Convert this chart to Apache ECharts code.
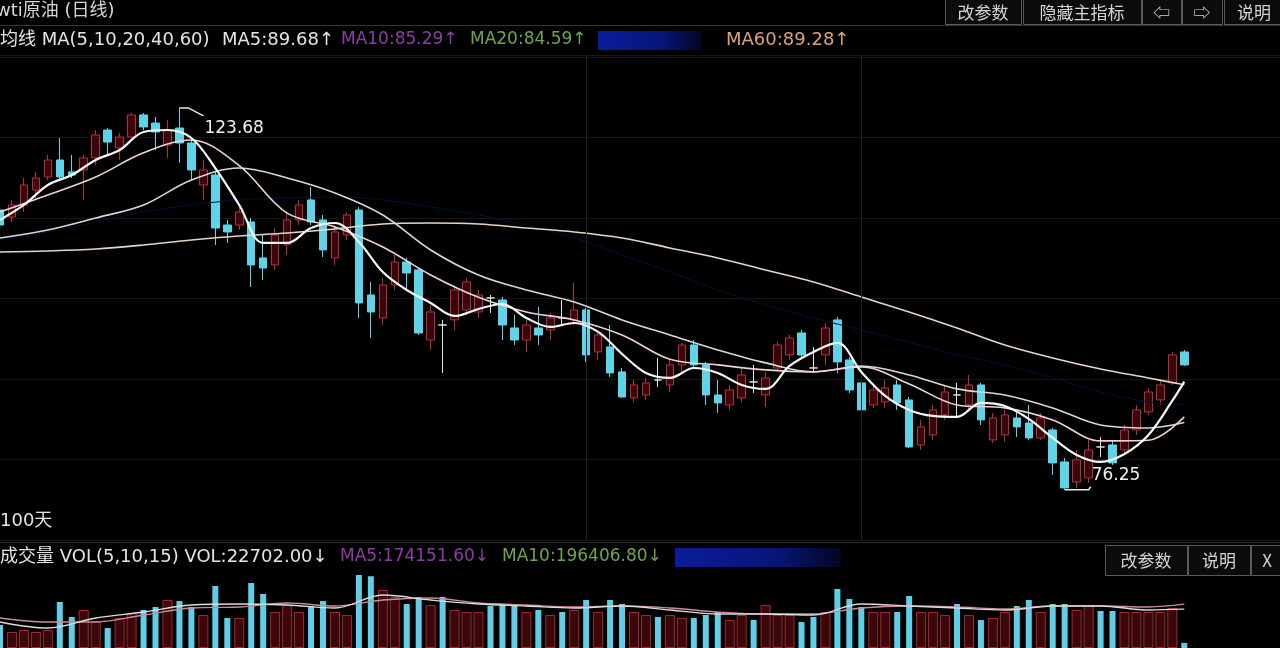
<!DOCTYPE html>
<html><head><meta charset="utf-8">
<script src="https://cdn.jsdelivr.net/npm/echarts@6/dist/echarts.min.js"></script>
<style>html,body{margin:0;padding:0;background:#000;}#c{width:1280px;height:648px;}</style>
</head><body><div id="c"></div>
<script>
// ---- categories (100 trading days + 8 empty slots on the right) ----
const dayLabels = Array.from({length: 100}, (_, i) => 'D' + (i + 1));
const padLabels = ['p1','p2','p3','p4','p5','p6','p7','p8'];

// ---- daily candles ----
const opens = [111.00,110.13,111.62,113.48,115.10,117.21,115.72,115.97,117.46,120.93,
118.70,120.06,122.80,121.80,119.07,121.18,119.32,114.10,115.34,109.13,
109.13,109.51,105.04,104.17,106.65,109.76,112.24,109.76,105.04,107.89,
111.00,100.44,97.58,101.68,104.54,103.55,94.85,96.71,97.34,98.58,
98.33,100.07,99.82,96.34,94.85,96.34,96.09,97.58,97.34,98.58,
93.36,93.98,90.88,87.65,88.02,89.88,89.26,91.75,94.23,91.75,
88.02,86.78,87.65,89.64,88.02,91.37,92.99,95.72,91.37,92.99,
97.34,92.37,89.51,86.78,87.15,89.26,87.40,81.81,83.05,85.54,
88.02,86.78,89.26,82.43,83.05,85.16,84.54,82.68,83.67,79.70,
77.22,77.71,81.56,81.81,81.19,83.67,85.91,87.40,89.51,93.36];
const closes = [109.13,111.62,114.10,114.97,117.21,115.10,115.34,117.46,120.31,119.44,
120.06,122.80,121.31,120.69,120.93,119.32,115.97,115.97,108.76,108.27,
110.75,104.17,103.79,107.89,109.76,111.62,109.51,106.03,108.27,110.38,
99.45,98.33,101.68,104.54,103.17,95.72,98.33,96.71,101.06,102.06,
100.44,100.07,96.71,94.85,96.71,95.47,97.58,97.58,98.58,92.99,
95.47,90.75,87.77,89.26,89.51,89.88,91.75,94.23,91.75,88.02,
87.03,88.64,90.50,89.64,90.13,94.23,95.10,92.99,91.37,96.34,
92.12,88.64,86.16,88.64,88.89,87.03,81.56,84.05,86.16,88.39,
88.02,89.26,84.92,85.16,85.54,84.05,82.68,85.16,79.58,76.47,
79.95,81.19,81.56,79.58,83.67,86.16,88.39,89.26,92.99,91.75];
const highs = [112.24,112.24,114.97,115.72,117.83,119.94,117.83,117.83,120.93,121.18,
120.56,123.05,123.05,122.55,122.18,123.68,119.69,117.21,115.72,109.76,
111.62,110.00,107.89,108.76,110.75,112.24,113.85,110.38,109.13,110.75,
111.37,102.06,102.55,105.41,105.04,103.79,99.20,97.34,101.68,102.55,
101.06,100.44,100.19,97.96,97.34,98.95,98.21,99.82,101.93,98.83,
96.09,96.71,91.37,89.88,90.13,92.62,92.37,94.48,94.85,92.12,
89.88,89.26,91.37,91.75,90.88,94.60,95.47,96.09,93.98,96.96,
97.71,92.74,89.88,89.26,89.88,89.88,87.77,84.92,86.78,89.26,
89.51,90.50,89.51,85.79,86.16,86.16,86.78,85.79,83.92,80.20,
81.19,82.43,82.80,82.43,84.29,86.78,88.89,89.88,93.36,93.61];
const lows = [108.51,109.51,110.75,112.24,114.72,114.72,114.97,112.24,116.59,117.83,
117.21,119.69,120.93,118.45,117.46,116.84,114.72,112.24,106.65,106.90,
108.51,101.43,102.30,103.55,105.41,109.13,109.13,105.16,104.17,107.27,
97.58,95.10,96.71,101.06,101.06,95.47,93.61,90.75,96.09,97.96,
97.58,98.21,94.85,94.23,93.36,94.23,94.85,96.71,96.71,92.12,
92.37,90.26,87.65,87.15,87.40,89.01,88.39,90.88,91.37,86.78,
85.79,86.16,87.15,88.27,86.53,90.88,92.37,92.74,90.75,91.75,
90.75,88.27,85.79,86.41,86.41,86.16,81.44,81.19,82.43,84.92,
85.29,86.16,84.29,82.06,82.18,82.80,82.43,82.43,78.08,76.25,
76.47,77.09,80.32,79.33,80.57,83.05,85.54,86.78,89.26,91.62];

// ---- moving averages: [day index, price] ----
const ma5 = [[0,109.76],[2,111.62],[4,114.10],[6,115.34],[8,117.21],[10,118.45],[12,120.69],[14,120.93],[16,119.94],[18,116.21],
[20,111.62],[22,106.90],[24,106.90],[26,108.76],[28,109.38],[30,107.02],[32,103.30],[34,101.06],[36,99.45],[38,97.83],
[40,98.70],[42,99.32],[44,97.58],[46,96.47],[48,96.96],[50,95.85],[52,93.11],[54,90.75],[56,90.13],[58,91.37],
[60,90.75],[62,89.26],[64,88.77],[66,91.62],[68,93.36],[70,94.48],[72,90.88],[74,87.90],[76,86.16],[78,85.41],
[80,85.29],[82,87.03],[84,86.65],[86,85.04],[88,82.68],[90,80.57],[92,79.70],[94,80.69],[96,83.05],[98,87.30],[99,89.68]];
const ma10 = [[0,110.75],[4,112.86],[8,115.10],[12,118.10],[16,119.69],[20,116.50],[24,110.60],[28,108.89],[32,106.40],[36,102.92],
[40,100.15],[44,98.33],[48,97.34],[52,95.47],[56,92.45],[60,91.75],[64,91.13],[68,90.90],[72,91.50],[76,89.39],
[80,86.78],[84,86.41],[88,84.92],[92,82.31],[96,82.40],[99,85.29]];
const ma20 = [[0,107.52],[4,108.51],[8,110.00],[12,111.62],[16,114.72],[20,116.21],[24,114.97],[28,113.11],[32,110.38],[36,106.03],
[40,102.92],[44,101.06],[48,99.57],[52,97.34],[56,95.47],[60,93.61],[64,92.00],[68,90.88],[72,91.62],[76,90.50],
[80,88.77],[84,88.02],[88,86.41],[92,84.29],[96,83.92],[99,84.59]];
const ma40 = [[0,107.27],[4,108.27],[8,109.51],[12,110.75],[16,111.62],[20,112.24],[24,112.49],[28,112.61],[32,112.24],[36,111.37],
[40,110.38],[44,109.13],[48,107.52],[52,105.41],[56,103.30],[60,101.06],[64,99.20],[68,97.58],[72,96.09],[76,94.60],
[80,92.99],[84,91.75],[88,90.13],[92,88.39],[96,87.15],[99,86.78]];
const ma60 = [[0,105.78],[4,105.91],[8,106.15],[12,106.65],[16,107.27],[20,107.77],[24,108.14],[28,108.64],[32,109.26],[36,109.38],
[40,109.26],[44,108.76],[48,108.27],[52,107.52],[56,106.28],[60,105.04],[64,103.55],[68,102.06],[72,100.19],[76,98.33],
[80,96.34],[84,94.23],[88,92.62],[92,91.25],[96,90.13],[99,89.28]];

// ---- volume ----
const vols = [103200,71800,80800,71800,80800,206400,139100,170500,116700,89700,
134600,157000,170500,184000,215400,210900,184000,148100,278200,134600,
134600,291700,242300,161500,192900,161500,188500,210900,161500,148100,
327600,322000,260200,228800,197400,228800,192900,228800,170500,161500,
161500,188500,197400,197400,161500,170500,148100,161500,170500,215400,
161500,215400,197400,161500,148100,139100,148100,134600,134600,148100,
161500,125600,148100,125600,192900,148100,148100,116700,139100,161500,
264700,219900,184000,161500,161500,161500,233300,161500,161500,148100,
197400,148100,125600,134600,161500,188500,215400,161500,197400,197400,
170500,192900,166000,166000,161500,161500,161500,161500,179500,22702];
const volMa5 = [[0,116700],[4,89700],[8,134600],[12,161500],[16,192900],[20,197400],[24,192900],[28,179500],[32,237800],[36,215400],
[40,197400],[44,188500],[48,179500],[52,188500],[56,170500],[60,152600],[64,152600],[68,148100],[72,197400],[76,188500],
[80,179500],[84,170500],[88,188500],[92,188500],[96,170500],[99,174151.60]];
const volMa10 = [[0,134600],[4,116700],[8,116700],[12,148100],[16,179500],[20,184000],[24,201900],[28,188500],[32,215400],[36,224400],
[40,201900],[44,192900],[48,184000],[52,188500],[56,179500],[60,161500],[64,152600],[68,152600],[72,179500],[76,188500],
[80,184000],[84,175000],[88,188500],[92,188500],[96,184000],[99,196406.80]];

// ---- build ----
const cats = dayLabels.concat(padLabels);
const kData = opens.map((o, i) => [o, closes[i], lows[i], highs[i]]);
const isUp = closes.map((c, i) => c > opens[i]);
const volUp = vols.map((v, i) => isUp[i] ? v : '-');
const volDown = vols.map((v, i) => isUp[i] ? '-' : v);
const last = a => a[a.length - 1][1];

const chart = echarts.init(document.getElementById('c'));
const hidden = {axisLine:{show:false}, axisTick:{show:false}, axisLabel:{show:false}, splitLine:{show:false}};
function xa(grid){ return Object.assign({type:'category', gridIndex:grid, data:cats, boundaryGap:false}, hidden); }
function maLine(data, color, width, z){
  return {type:'line', xAxisIndex:0, yAxisIndex:0, data:data, symbol:'none', smooth:0.35,
    lineStyle:{color:color, width:width}, z:z, silent:true};
}
const option = {
  backgroundColor:'#000',
  animation:false,
  grid:[{left:0, top:55, width:1284, height:485},{left:0, top:570, width:1284, height:78}],
  xAxis:[xa(0), xa(1), xa(1)],
  yAxis:[
    {type:'value', gridIndex:0, min:70, max:130.25, interval:10, axisLine:{show:false}, axisTick:{show:false}, axisLabel:{show:false},
     splitLine:{show:true, lineStyle:{color:'#161616', width:1}}},
    Object.assign({type:'value', gridIndex:1, min:0, max:350000}, hidden)
  ],
  series:[
    {type:'candlestick', xAxisIndex:0, yAxisIndex:0, data:kData, barWidth:8, z:2,
     itemStyle:{color:'rgba(80,8,16,0.7)', color0:'#5fd4e8', borderColor:'#b3303a', borderColor0:'#5fd4e8', borderColorDoji:'#e4e4e4', borderWidth:1},
     markLine:{silent:true, symbol:['none','none'], label:{show:false}, lineStyle:{color:'#202020', width:1, type:'solid'},
       data:[{xAxis:dayLabels[49]},{xAxis:dayLabels[72]}]}},
    maLine(ma40, '#071036', 1, 3),
    maLine(ma60, '#e6d4c4', 1.6, 4),
    maLine(ma20, '#d8d8d8', 1.6, 5),
    maLine(ma10, '#eed2da', 1.6, 6),
    maLine(ma5, '#f7f7f7', 2.2, 7),
    {type:'bar', xAxisIndex:1, yAxisIndex:1, data:volUp, barWidth:10, z:2,
     itemStyle:{color:'#3a080b', borderColor:'#a8262c', borderWidth:1}},
    {type:'bar', xAxisIndex:2, yAxisIndex:1, data:volDown, barWidth:6, z:3,
     itemStyle:{color:'#62cde6'}},
    {type:'line', xAxisIndex:1, yAxisIndex:1, data:volMa5, symbol:'none', smooth:0.35, lineStyle:{color:'#dcdcdc', width:1.3}, z:6, silent:true},
    {type:'line', xAxisIndex:1, yAxisIndex:1, data:volMa10, symbol:'none', smooth:0.35, lineStyle:{color:'#c88c9c', width:1.3}, z:5, silent:true}
  ]
};
chart.setOption(option);

// ---- texts / furniture ----
const F = '18px "DejaVu Sans", "Noto Sans CJK SC", sans-serif';
const F17 = '17px "DejaVu Sans", "Noto Sans CJK SC", sans-serif';
const FB = '17px "Noto Sans CJK SC", "DejaVu Sans", sans-serif';
function txt(x, y, s, fill, font, align){
  return {type:'text', x:x, y:y, z:50, style:{text:s, fill:fill, font:font || F, verticalAlign:'middle', align:align || 'left'}};
}
function btn(x, y, w, h, s){
  return [{type:'rect', z:40, shape:{x:x+0.5, y:y+0.5, width:w, height:h}, style:{fill:'#0b0b0b', stroke:'#5a5a5a', lineWidth:1}},
          txt(x + w/2, y + h/2 + 1, s, '#d4d4d4', FB, 'center')];
}
function hline(y, x1, x2, c){ return {type:'line', z:30, shape:{x1:x1, y1:y+0.5, x2:x2, y2:y+0.5}, style:{stroke:c, lineWidth:1}}; }
function blueBox(x, y, w, h){
  return {type:'rect', z:40, shape:{x:x, y:y, width:w, height:h},
    style:{fill:new echarts.graphic.LinearGradient(0,0,1,0,[{offset:0,color:'#0a1c9c'},{offset:0.6,color:'#08157a'},{offset:1,color:'#020622'}])}};
}
const W = '#e4e4e4';
let g = [];
g.push(hline(25, 0, 1280, '#343434'));
g.push(hline(542, 0, 1280, '#2c2c2c'));
g.push(txt(-4, 11, 'wti原油 (日线)', '#d6d6d6'));
g = g.concat(btn(945, -1, 76, 25, '改参数'), btn(1023, -1, 118, 25, '隐藏主指标'),
             btn(1142, -1, 39, 25, '⇦'), btn(1182, -1, 40, 25, '⇨'), btn(1224, -1, 60, 25, '说明'));
g.push(txt(0, 40, '均线 MA(5,10,20,40,60)', W));
g.push(txt(222, 40, 'MA5:' + last(ma5).toFixed(2) + '↑', W));
g.push(txt(341, 40, 'MA10:' + last(ma10).toFixed(2) + '↑', '#8e3ca4', F17));
g.push(txt(470, 40, 'MA20:' + last(ma20).toFixed(2) + '↑', '#6fa64c', F17));
g.push(blueBox(598, 31, 104, 19));
g.push(txt(726, 40, 'MA60:' + last(ma60).toFixed(2) + '↑', '#dba27c'));
g.push(txt(0, 521, '100天', W));
g.push(txt(0, 557, '成交量 VOL(5,10,15) VOL:' + vols[vols.length-1].toFixed(2) + '↓', W));
g.push(txt(340, 557, 'MA5:' + last(volMa5).toFixed(2) + '↓', '#8e3ca4', F17));
g.push(txt(502, 557, 'MA10:' + last(volMa10).toFixed(2) + '↓', '#6fa64c', F17));
g.push(blueBox(675, 548, 166, 19));
g = g.concat(btn(1105, 545, 82, 30, '改参数'), btn(1188, 545, 62, 30, '说明'), btn(1251, 545, 32, 30, 'X'));

// high / low markers
const hiIdx = highs.indexOf(Math.max.apply(null, highs));
const loIdx = lows.indexOf(Math.min.apply(null, lows));
const hp = chart.convertToPixel({xAxisIndex:0, yAxisIndex:0}, [hiIdx, highs[hiIdx]]);
const lp = chart.convertToPixel({xAxisIndex:0, yAxisIndex:0}, [loIdx, lows[loIdx]]);
g.push({type:'polyline', z:45, shape:{points:[[hp[0], hp[1]], [hp[0]+9, hp[1]], [hp[0]+24, hp[1]+8]]}, style:{stroke:'#e8e8e8', lineWidth:1.5, fill:null}});
g.push(txt(hp[0]+25, hp[1]+21, highs[hiIdx].toFixed(2), '#f0f0f0', '17px "DejaVu Sans", sans-serif'));
g.push({type:'polyline', z:45, shape:{points:[[lp[0], lp[1]], [lp[0]+24, lp[1]], [lp[0]+26, lp[1]-3]]}, style:{stroke:'#e8e8e8', lineWidth:1.5, fill:null}});
g.push(txt(lp[0]+27, lp[1]-14, lows[loIdx].toFixed(2), '#f0f0f0', '17px "DejaVu Sans", sans-serif'));
chart.setOption({graphic:g});
</script>
</body></html>
